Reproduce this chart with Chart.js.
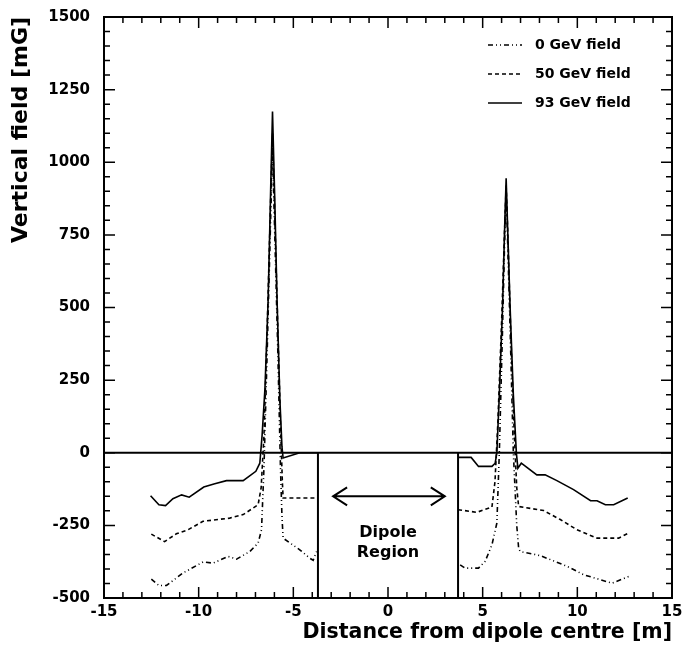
<!DOCTYPE html>
<html>
<head>
<meta charset="utf-8">
<script src="https://cdn.jsdelivr.net/npm/chart.js@4.4.1/dist/chart.umd.min.js"></script>
<style>
  html, body { margin: 0; padding: 0; background: #fff; }
</style>
</head>
<body>
<canvas id="fieldChart" width="683" height="648"></canvas>
<script>
// readings, [distance m, field mG]
const field0Left = [[-12.5,-435],[-12.1,-457],[-11.7,-457],[-10.83,-414],[-9.77,-376],[-9.24,-380],[-8.45,-357],[-8.0,-366],[-7.3,-340],[-6.86,-311],[-6.68,-265],[-6.55,-50],[-6.38,350],[-6.22,750],[-6.1,1050],[-5.98,750],[-5.82,350],[-5.68,-50],[-5.6,-220],[-5.54,-294],[-4.66,-334],[-4.13,-363],[-3.95,-370],[-3.77,-340]];
const field0Right = [[3.81,-386],[4.07,-397],[4.78,-397],[5.13,-374],[5.49,-317],[5.75,-242],[5.88,0],[6.04,400],[6.15,700],[6.24,900],[6.33,700],[6.46,400],[6.62,0],[6.8,-250],[6.9,-328],[6.98,-340],[8.04,-354],[9.46,-391],[10.34,-420],[11.83,-449],[12.72,-426]];

const field50Left = [[-12.5,-280],[-11.8,-306],[-11.18,-279],[-10.56,-265],[-9.77,-236],[-8.36,-225],[-7.65,-213],[-6.86,-179],[-6.7,-120],[-6.55,60],[-6.38,430],[-6.22,820],[-6.1,1100],[-5.98,820],[-5.82,430],[-5.66,60],[-5.58,-100],[-5.54,-156],[-3.7,-156]];
const field50Right = [[3.7,-196],[4.69,-205],[5.49,-187],[5.65,-100],[5.8,100],[6.0,450],[6.15,750],[6.24,920],[6.33,750],[6.48,420],[6.66,80],[6.8,-120],[6.9,-185],[8.22,-199],[9.1,-230],[9.98,-265],[11.04,-294],[12.18,-294],[12.72,-276]];

const field93Left = [[-12.54,-148],[-12.1,-179],[-11.75,-182],[-11.36,-158],[-10.9,-145],[-10.5,-153],[-9.73,-118],[-9.15,-107],[-8.53,-96],[-7.65,-96],[-6.98,-64],[-6.77,-36],[-6.65,60],[-6.5,220],[-6.33,527],[-6.21,871],[-6.1,1175],[-5.98,871],[-5.86,527],[-5.71,182],[-5.6,20],[-5.54,-18],[-4.66,0],[-3.7,0]];
const field93Right = [[3.7,-16],[4.39,-16],[4.78,-47],[5.49,-47],[5.66,-36],[5.75,0],[5.88,200],[6.05,500],[6.15,750],[6.24,945],[6.33,750],[6.45,500],[6.62,200],[6.78,0],[6.86,-53],[7.04,-36],[7.86,-76],[8.3,-76],[8.92,-96],[9.8,-127],[10.7,-165],[11.04,-165],[11.48,-179],[11.92,-179],[12.66,-156]];

const seriesLabels = ["0 GeV field", "50 GeV field", "93 GeV field"];

// guide lines and the dipole marker
const zeroLine = [[-15,0],[15,0]];
const dipoleEdgeLeft = [[-3.7,0],[-3.7,-500]];
const dipoleEdgeRight = [[3.7,0],[3.7,-500]];
const arrowSpan = [-2.9, 3.0];
const arrowLevel = -150;
const regionText = ["Dipole", "Region"];
const regionTextLevels = [-275, -345];

const xTicks = [-15, -10, -5, 0, 5, 10, 15];
const yTicks = [-500, -250, 0, 250, 500, 750, 1000, 1250, 1500];

const FONT = "'DejaVu Sans', sans-serif";

const toPoints = (arr) => arr.map(([x, y]) => ({ x, y }));
const joinSegments = (a, b) => [...toPoints(a), { x: 0, y: null }, ...toPoints(b)];

const dashStyles = [[5, 3, 1, 3, 1, 3], [4, 3], []];

const ctx = document.getElementById("fieldChart").getContext("2d");

// inward ticks on all four sides + frame, ROOT style
const frameTicks = {
  id: "frameTicks",
  afterDraw(chart) {
    const { ctx, chartArea: a, scales: { x, y } } = chart;
    ctx.save();
    ctx.strokeStyle = "#000";
    ctx.lineWidth = 1.5;
    ctx.beginPath();
    for (let v = -15; v <= 15; v++) {
      const len = v % 5 === 0 ? 11 : 6;
      const px = x.getPixelForValue(v);
      ctx.moveTo(px, a.bottom); ctx.lineTo(px, a.bottom - len);
      ctx.moveTo(px, a.top); ctx.lineTo(px, a.top + len);
    }
    for (let v = -500; v <= 1500; v += 50) {
      const len = v % 250 === 0 ? 11 : 6;
      const py = y.getPixelForValue(v);
      ctx.moveTo(a.left, py); ctx.lineTo(a.left + len, py);
      ctx.moveTo(a.right, py); ctx.lineTo(a.right - len, py);
    }
    ctx.stroke();
    ctx.lineWidth = 2;
    ctx.strokeRect(a.left, a.top, a.right - a.left, a.bottom - a.top);
    ctx.restore();
  },
};

// arrow, "Dipole Region" text and the legend box
const annotations = {
  id: "annotations",
  afterDatasetsDraw(chart) {
    const { ctx, scales: { x, y } } = chart;
    ctx.save();
    ctx.strokeStyle = "#000";
    ctx.fillStyle = "#000";
    ctx.lineWidth = 2;
    const x1 = x.getPixelForValue(arrowSpan[0]);
    const x2 = x.getPixelForValue(arrowSpan[1]);
    const ay = y.getPixelForValue(arrowLevel);
    ctx.beginPath();
    ctx.moveTo(x1, ay); ctx.lineTo(x2, ay);
    ctx.moveTo(x1 + 14, ay - 9); ctx.lineTo(x1, ay); ctx.lineTo(x1 + 14, ay + 9);
    ctx.moveTo(x2 - 14, ay - 9); ctx.lineTo(x2, ay); ctx.lineTo(x2 - 14, ay + 9);
    ctx.stroke();

    ctx.font = `bold 16px ${FONT}`;
    ctx.textAlign = "center";
    ctx.textBaseline = "middle";
    const cx = x.getPixelForValue(0);
    regionText.forEach((t, i) => ctx.fillText(t, cx, y.getPixelForValue(regionTextLevels[i])));

    // legend
    ctx.font = `bold 14px ${FONT}`;
    ctx.textAlign = "left";
    ctx.lineWidth = 1.5;
    seriesLabels.forEach((label, i) => {
      const ly = 45 + i * 29;
      ctx.setLineDash(dashStyles[i]);
      ctx.beginPath();
      ctx.moveTo(488, ly); ctx.lineTo(522, ly);
      ctx.stroke();
      ctx.setLineDash([]);
      ctx.fillText(label, 535, ly);
    });
    ctx.restore();
  },
};

const guide = (data) => ({
  data: toPoints(data),
  borderColor: "#000",
  borderWidth: 2,
  pointRadius: 0,
});

new Chart(ctx, {
  type: "line",
  data: {
    datasets: [
      guide(zeroLine),
      guide(dipoleEdgeLeft),
      guide(dipoleEdgeRight),
      ...[
        [field0Left, field0Right],
        [field50Left, field50Right],
        [field93Left, field93Right],
      ].map(([l, r], i) => ({
        label: seriesLabels[i],
        data: joinSegments(l, r),
        borderColor: "#000",
        borderWidth: 1.6,
        borderDash: dashStyles[i],
        pointRadius: 0,
        spanGaps: false,
      })),
    ],
  },
  options: {
    responsive: false,
    animation: false,
    devicePixelRatio: 1,
    layout: { padding: { top: 17, right: 11, left: 0, bottom: 0 } },
    plugins: {
      legend: { display: false },
      tooltip: { enabled: false },
    },
    elements: { line: { tension: 0 } },
    scales: {
      x: {
        type: "linear",
        min: -15,
        max: 15,
        afterBuildTicks: (s) => { s.ticks = xTicks.map((v) => ({ value: v })); },
        afterFit: (s) => { s.height = 50; s.paddingLeft = 0; s.paddingRight = 0; },
        ticks: {
          callback: (v) => String(v),
          autoSkip: false,
          maxRotation: 0,
          padding: 5,
          color: "#000",
          font: { family: FONT, size: 15, weight: "bold" },
        },
        grid: { display: false, drawTicks: false },
        border: { display: false },
        title: {
          display: true,
          text: "Distance from dipole centre [m]",
          align: "end",
          color: "#000",
          font: { family: FONT, size: 20.5, weight: "bold" },
          padding: { top: 0, bottom: 3 },
        },
      },
      y: {
        min: -500,
        max: 1500,
        afterBuildTicks: (s) => { s.ticks = yTicks.map((v) => ({ value: v })); },
        afterFit: (s) => { s.width = 104; s.paddingTop = 0; s.paddingBottom = 0; },
        ticks: {
          callback: (v) => String(v),
          autoSkip: false,
          padding: 14,
          color: "#000",
          font: { family: FONT, size: 15, weight: "bold" },
        },
        grid: { display: false, drawTicks: false },
        border: { display: false },
        title: {
          display: true,
          text: "Vertical field [mG]",
          align: "end",
          color: "#000",
          font: { family: FONT, size: 22, weight: "bold" },
          padding: { top: 8, bottom: 0 },
        },
      },
    },
  },
  plugins: [frameTicks, annotations],
});
</script>
</body>
</html>
